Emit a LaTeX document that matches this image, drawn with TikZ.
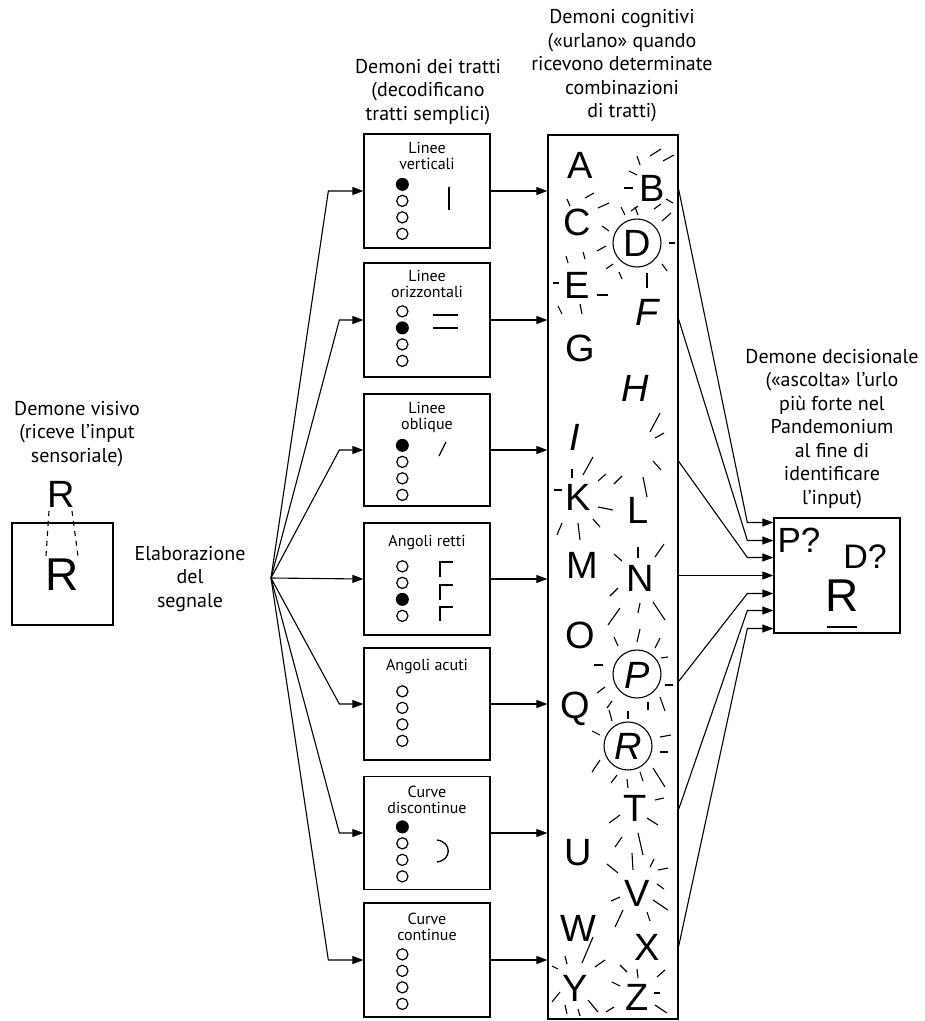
\documentclass[tikz,border=0pt]{standalone}
\usepackage{fontspec}
\setmainfont{PT Sans}
\newfontfamily\lettere{Liberation Sans}
\usetikzlibrary{arrows.meta,calc}

\tikzset{
  box/.style={draw,line width=1.3pt,inner sep=0pt},
  lbl/.style={align=center,inner sep=0pt,font=\fontsize{20}{23.5}\selectfont},
  tit/.style={align=center,inner sep=0pt,font=\fontsize{16}{16}\selectfont},
  big/.style={inner sep=0pt,font=\lettere\fontsize{38}{38}\selectfont},
  bigit/.style={inner sep=0pt,font=\lettere\itshape\fontsize{38}{38}\selectfont},
  ring/.style={draw,circle,line width=1.1pt,minimum size=48pt,inner sep=0pt},
  ray/.style={line width=1.1pt},
  arr/.style={line width=1.1pt,-{Triangle[length=11pt,width=8pt]}},
}

% four feature dots of a box: box name, first offset, index of the black one
\newcommand{\cerchi}[3]{%
  \foreach \k in {0,...,3}{%
    \ifnum\k=#3\relax
      \fill ($(#1.north west)+(39,{#2+16.5*\k})$) circle (6.5pt);
    \else
      \draw[line width=1.2pt] ($(#1.north west)+(39,{#2+16.5*\k})$) circle (5.6pt);
    \fi}}

\begin{document}
\begin{tikzpicture}[x=1pt,y=1pt,yscale=-1,xscale=1]
  \useasboundingbox (0,0) rectangle (925,1021);

  % Demone visivo
  \node[lbl] (tvis) at (77,434) {Demone visivo\\(riceve l’input\\sensoriale)};
  \node[box,minimum width=101pt,minimum height=102pt] (vis) at (62.5,574) {};
  \node[inner sep=0pt,font=\lettere\fontsize{38}{38}\selectfont] (rtop) at (61,494) {R};
  \node[inner sep=0pt,font=\lettere\fontsize{46}{46}\selectfont] (rin) at (62,575) {R};
  \draw[line width=1.1pt,dash pattern=on 5pt off 5pt] (49,511) -- (46,556);
  \draw[line width=1.1pt,dash pattern=on 5pt off 5pt] (72,511) -- (78,556);

  % Text Node
  \node[lbl] (telab) at (190,579) {Elaborazione\\del\\segnale};
  \coordinate (fan) at (271,578);

  % Demoni dei tratti
  \node[lbl] (ttratti) at (428,92) {Demoni dei tratti\\(decodificano\\tratti semplici)};
  \node[box,minimum width=126pt,minimum height=114pt] (f1) at (427,191) {};
  \node[box,minimum width=126pt,minimum height=114pt] (f2) at (427,320) {};
  \node[box,minimum width=126pt,minimum height=112pt] (f3) at (427,450) {};
  \node[box,minimum width=126pt,minimum height=112pt] (f4) at (427,579) {};
  \node[box,minimum width=126pt,minimum height=112pt] (f5) at (427,704) {};
  \node[box,minimum width=126pt,minimum height=113pt] (f6) at (427,833) {};
  \node[box,minimum width=126pt,minimum height=114pt] (f7) at (427,960) {};

  \node[tit] (t1) at (427,156) {Linee\\verticali};
  \node[tit] (t2) at (427,284) {Linee\\orizzontali};
  \node[tit] (t3) at (427,417) {Linee\\oblique};
  \node[tit] (t4) at (427,542) {Angoli retti};
  \node[tit] (t5) at (427,666) {Angoli acuti};
  \node[tit] (t6) at (427,800) {Curve\\discontinue};
  \node[tit] (t7) at (427,927) {Curve\\continue};

  \cerchi{f1}{51}{0}
  \cerchi{f2}{49}{1}
  \cerchi{f3}{52}{0}
  \cerchi{f4}{44}{2}
  \cerchi{f5}{44}{9}
  \cerchi{f6}{51}{0}
  \cerchi{f7}{52}{9}

  % feature marks
  \draw[line width=1.3pt] (449,187) -- (449,210);
  \draw[line width=1.3pt] (433,315) -- (458,315);
  \draw[line width=1.3pt] (433,328) -- (458,328);
  \draw[line width=1.3pt] (439,456) -- (446,442);
  \draw[line width=1.3pt] (440,577) -- (440,562) -- (453,562);
  \draw[line width=1.3pt] (440,600) -- (440,585) -- (453,585);
  \draw[line width=1.3pt] (440,621) -- (440,607) -- (453,607);
  \draw[line width=1.3pt] (437,840) .. controls (452,842) and (452,860) .. (437,862);

  % fan of arrows
  \draw[arr] (fan) -- ($(f1.west)+(-35,0)$) -- (f1.west);
  \draw[arr] (fan) -- ($(f2.west)+(-24,0)$) -- (f2.west);
  \draw[arr] (fan) -- ($(f3.west)+(-24,0)$) -- (f3.west);
  \draw[arr] (fan) -- (f4.west);
  \draw[arr] (fan) -- ($(f5.west)+(-24,0)$) -- (f5.west);
  \draw[arr] (fan) -- ($(f6.west)+(-24,0)$) -- (f6.west);
  \draw[arr] (fan) -- ($(f7.west)+(-35,0)$) -- (f7.west);

  % Demoni cognitivi
  \node[lbl] (tcog) at (622,66) {Demoni cognitivi\\(«urlano» quando\\ricevono determinate\\combinazioni\\di tratti)};
  \node[box,minimum width=130pt,minimum height=884pt] (cog) at (613,577) {};

  \foreach \f in {f1,f2,f3,f4,f5,f6,f7}
    \draw[arr] (\f.east) -- (\f.east -| cog.west);

  \node[big] (lA) at (580,165) {A};
  \node[big] (lB) at (652,188) {B};
  \node[big] (lC) at (577,222) {C};
  \node[big] (lD) at (637,243) {D};
  \node[big] (lE) at (577,285) {E};
  \node[bigit] (lF) at (647,312) {F};
  \node[big] (lG) at (580,348) {G};
  \node[bigit] (lH) at (635,388) {H};
  \node[bigit] (lI) at (575,437) {I};
  \node[big] (lK) at (578,497) {K};
  \node[big] (lL) at (638,510) {L};
  \node[big] (lM) at (582,565) {M};
  \node[big] (lN) at (640,578) {N};
  \node[big] (lO) at (580,635) {O};
  \node[bigit] (lP) at (637,675) {P};
  \node[big] (lQ) at (575,709) {Q};
  \node[bigit] (lR) at (628,746) {R};
  \node[big] (lT) at (635,808) {T};
  \node[big] (lU) at (578,853) {U};
  \node[big] (lV) at (637,893) {V};
  \node[big] (lW) at (578,928) {W};
  \node[big] (lX) at (647,947) {X};
  \node[big] (lY) at (575,988) {Y};
  \node[big] (lZ) at (637,997) {Z};

  \node[ring] (cD) at (637,243) {};
  \node[ring] (cP) at (637,674) {};
  \node[ring] (cR) at (628,746) {};

  % shouting rays
  \foreach \xa/\ya/\xb/\yb in {
      637/156/640/165, 650/156/661/149, 663/161/674/155, 629/171/637/175,
      624/188/633/188, 666/199/673/203, 654/209/661/204, 631/211/638/206,
      567/199/570/206, 585/198/594/193, 598/208/609/203, 602/226/609/231,
      621/207/625/215, 635/207/638/215, 662/221/671/213,
      597/251/606/246, 606/269/613/264, 619/272/622/279, 647/273/647/288,
      662/264/667/271, 669/243/675/243,
      566/256/568/263, 583/252/585/259, 553/283/559/283, 597/295/608/295,
      558/306/562/314, 580/304/582/314,
      650/432/660/413, 655/438/664/433, 653/461/661/470, 643/477/647/497,
      583/475/593/457, 572/469/572/478, 554/490/562/490, 598/481/606/474,
      614/484/622/476, 598/507/613/510, 593/519/600/527, 578/523/580/540,
      557/535/562/523,
      614/554/622/561, 638/547/638/558, 655/557/664/544,
      608/625/620/608, 610/596/618/588, 638/613/640/603, 653/602/665/620,
      614/637/618/646, 637/642/640/629, 655/648/660/638, 661/658/668/657,
      594/665/603/665, 665/685/673/685, 597/693/605/687, 607/708/612/701,
      648/702/648/710, 660/697/665/711,
      609/710/612/721, 628/711/628/719, 592/731/600/735, 660/737/671/735,
      660/752/668/752, 592/772/600/760, 611/783/617/775, 627/779/628/788,
      640/772/643/781, 653/768/665/787,
      609/823/620/815, 655/800/664/798, 647/818/658/825, 615/847/622/837,
      638/833/643/855,
      607/864/618/873, 632/853/633/870, 650/867/654/859, 658/870/668/868,
      657/884/664/889, 611/901/620/897, 653/900/668/910, 615/927/623/910,
      647/912/650/921,
      582/963/593/937, 565/956/567/964, 552/966/558/969, 595/967/605/960,
      552/1002/560/992, 565/1005/567/1014, 578/1009/580/1016, 588/1000/598/1012,
      606/1012/614/1007,
      620/965/627/972, 637/969/638/978, 657/977/665/970, 612/982/620/986,
      654/993/660/993, 655/1005/667/1013}
    \draw[ray] (\xa,\ya) -- (\xb,\yb);

  % Demone decisionale
  \node[lbl] (tdec) at (832,429) {Demone decisionale\\(«ascolta» l’urlo\\più forte nel\\Pandemonium\\al fine di\\identificare\\l’input)};
  \node[box,minimum width=126pt,minimum height=115pt] (dec) at (837,575.5) {};
  \node[inner sep=0pt,font=\lettere\fontsize{35}{35}\selectfont] (pq) at (799,540) {P?};
  \node[inner sep=0pt,font=\lettere\fontsize{34}{34}\selectfont] (dq) at (865,557) {D?};
  \node[inner sep=0pt,font=\lettere\fontsize{46}{46}\selectfont] (rfin) at (842,596) {R};
  \draw[line width=1.3pt] (827,627) -- (857,627);

  \draw[arr] ($(cog.north east)+(0,55)$) -- ($(dec.west)+(-26,-53)$) -- ($(dec.west)+(0,-53)$);
  \draw[arr] ($(cog.north east)+(0,185)$) -- ($(dec.west)+(-26,-35)$) -- ($(dec.west)+(0,-35)$);
  \draw[arr] ($(cog.north east)+(0,327)$) -- ($(dec.west)+(-26,-18)$) -- ($(dec.west)+(0,-18)$);
  \draw[arr] (dec.west -| cog.east) -- (dec.west);
  \draw[arr] ($(cog.north east)+(0,547)$) -- ($(dec.west)+(-26,18)$) -- ($(dec.west)+(0,18)$);
  \draw[arr] ($(cog.north east)+(0,675)$) -- ($(dec.west)+(-26,35)$) -- ($(dec.west)+(0,35)$);
  \draw[arr] ($(cog.north east)+(0,812)$) -- ($(dec.west)+(-26,53)$) -- ($(dec.west)+(0,53)$);

\end{tikzpicture}
\end{document}
